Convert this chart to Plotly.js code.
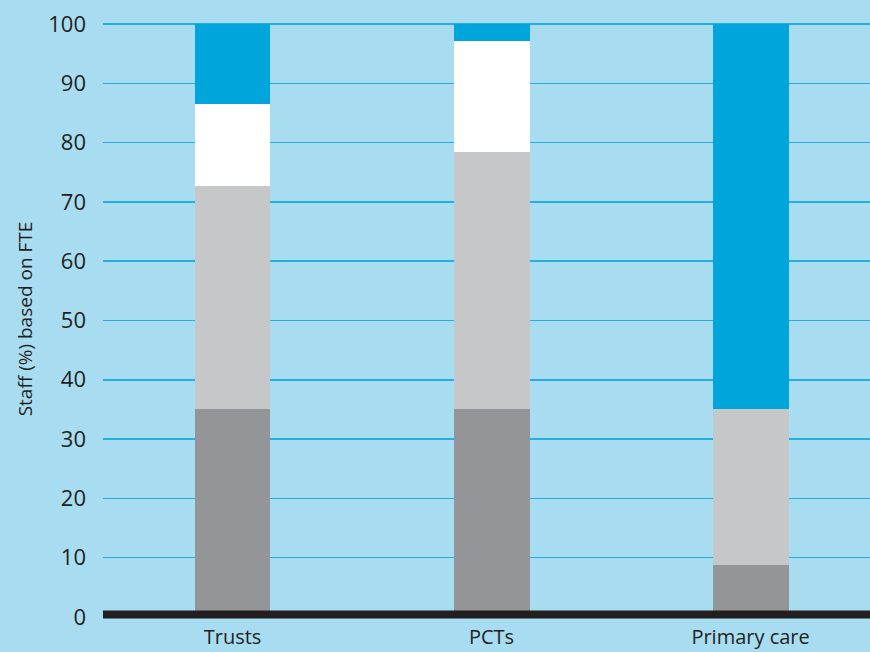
<!DOCTYPE html>
<html>
<head>
<meta charset="utf-8">
<script src="https://cdn.plot.ly/plotly-3.0.1.min.js"></script>
<style>
  html, body { margin: 0; padding: 0; background: #a8ddf1; }
  #chart { width: 870px; height: 652px; }
</style>
</head>
<body>
<div id="chart"></div>
<script>
// Staff share (%) by sector, stacked bottom to top
const categories = ['Trusts', 'PCTs', 'Primary care'];
const darkGrey  = [35, 35, 8.8];
const lightGrey = [37.7, 43.4, 26.2];
const white     = [13.8, 18.7, 0];
const blue      = [13.5, 2.9, 65];
const yTicks    = [0, 10, 20, 30, 40, 50, 60, 70, 80, 90, 100];

const seriesColors = ['#939598', '#c6c7c9', '#ffffff', '#00a6db'];
const seriesValues = [darkGrey, lightGrey, white, blue];
const seriesNames  = ['Group 1', 'Group 2', 'Group 3', 'Group 4'];

const traces = seriesValues.map((vals, i) => ({
  type: 'bar',
  x: categories,
  y: vals,
  name: seriesNames[i],
  width: 0.293,
  marker: { color: seriesColors[i], line: { width: 0 } },
  hoverinfo: 'x+y+name'
}));

const font = '"Open Sans", "Noto Sans", sans-serif';

const layout = {
  width: 870,
  height: 652,
  barmode: 'stack',
  showlegend: false,
  paper_bgcolor: '#a8ddf1',
  plot_bgcolor: '#a8ddf1',
  margin: { l: 103, r: 0, t: 21, b: 35, pad: 0 },
  font: { family: font, color: '#231f20' },
  xaxis: {
    range: [-0.5, 2.461],
    showgrid: false,
    zeroline: false,
    showline: false,
    ticks: '',
    ticklabelstandoff: 6,
    tickfont: { size: 20, family: font, color: '#231f20' }
  },
  yaxis: {
    range: [0, 100.5],
    tickvals: yTicks,
    ticktext: yTicks.map(String),
    showgrid: true,
    gridcolor: '#27aee0',
    gridwidth: 1.5,
    zeroline: false,
    showline: false,
    ticks: '',
    ticklabelstandoff: 16,
    tickfont: { size: 22, family: font, color: '#231f20' },
    title: {
      text: 'Staff (%) based on FTE',
      font: { size: 19, family: font, color: '#231f20' },
      standoff: 10
    }
  },
  // heavy baseline drawn over the bar bottoms
  shapes: [{
    type: 'line',
    xref: 'paper', yref: 'paper',
    x0: 0, x1: 1, y0: 0.004, y1: 0.004,
    line: { color: '#231f20', width: 8 },
    layer: 'above'
  }]
};

Plotly.newPlot('chart', traces, layout, { displayModeBar: false, staticPlot: true });
</script>
</body>
</html>
